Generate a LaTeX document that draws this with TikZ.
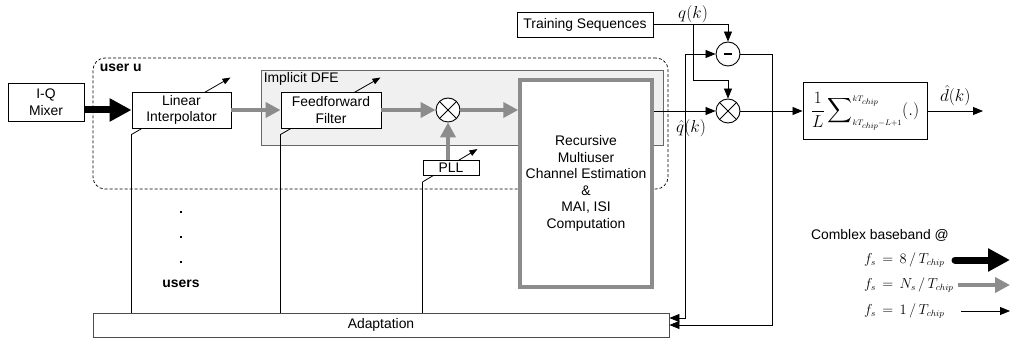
\documentclass[tikz,border=0pt]{standalone}
\usepackage{amsmath}
\usepackage{fontspec}
\setmainfont{Liberation Sans}
\usepackage{tikz}
\usetikzlibrary{arrows.meta,positioning,calc,backgrounds}

\begin{document}
\begin{tikzpicture}[
  x=1pt,y=-1pt,
  font=\fontsize{13.9}{16.6}\selectfont,
  box/.style={draw,line width=0.9pt,fill=white,align=center,inner sep=1pt},
  mult/.style={circle,draw,line width=0.9pt,fill=white,minimum size=24pt,inner sep=0pt,
    path picture={\draw[line width=0.9pt]
      (path picture bounding box.south west) -- (path picture bounding box.north east)
      (path picture bounding box.north west) -- (path picture bounding box.south east);}},
  arr/.style={-{Triangle[length=10pt,width=8pt]},line width=0.8pt},
  tune/.style={-{Triangle[length=8pt,width=6pt]},line width=0.8pt},
  garr/.style={-{Triangle[length=15pt,width=15pt]},line width=4pt,color=black!45},
  barr/.style={-{Triangle[length=22pt,width=22pt]},line width=7pt},
  mlbl/.style={font=\fontsize{17}{19}\selectfont},
  flbl/.style={font=\fontsize{13.3}{15}\selectfont,anchor=west,inner sep=0pt},
  bold/.style={font=\fontsize{13.9}{16.6}\selectfont\bfseries},
]
\useasboundingbox (0,0) rectangle (1012,339);
% ----- frames
\begin{scope}[on background layer]
\node[draw,line width=0.7pt,dash pattern=on 3pt off 2pt,rounded corners=12pt,
      minimum width=575pt,minimum height=131pt,
      label={[bold,anchor=north west,inner sep=0pt,xshift=7pt,yshift=-6pt]north west:user u}] (user) at (380.5,123.5) {};
\node[draw=black!60,fill=black!6,line width=0.9pt,minimum width=402pt,minimum height=75pt,
      label={[anchor=north west,inner sep=0pt,xshift=3pt,yshift=-3pt]north west:Implicit DFE}] (dfe) at (462,107.5) {};
\end{scope}
% ----- blocks
\node[box,minimum width=76pt,minimum height=38pt] (mixer) at (46,102) {I-Q\\Mixer};
\node[box,minimum width=99pt,minimum height=36pt] (interp) at (181.5,110) {Linear\\Interpolator};
\node[box,minimum width=100pt,minimum height=36pt] (ff) at (331,110) {Feedforward\\Filter};
\node[mult] (mul1) at (448,110) {};
\node[box,draw=black!45,line width=3.5pt,minimum width=132pt,minimum height=207pt] (rec) at (586,183.5)
  {Recursive\\Multiuser\\Channel Estimation\\\&\\MAI, ISI\\Computation};
\node[box,minimum width=56pt,minimum height=15pt,inner sep=0pt] (pll) at (451,168) {PLL};
\node[box,minimum width=136pt,minimum height=25pt] (train) at (585,24.5) {Training Sequences};
\node[circle,draw,line width=0.9pt,fill=white,minimum size=24pt,inner sep=0pt] (minus) at (728,54) {\rule{8pt}{2.5pt}};
\node[mult] (mul2) at (728,111) {};
\node[box,minimum width=124pt,minimum height=57pt] (sumbox) at (865,111)
  {\fontsize{16}{18}\selectfont$\displaystyle\frac{1}{L}\sum\nolimits_{\scriptscriptstyle kT_{chip}-L+1}^{\scriptscriptstyle kT_{chip}}(.)$};
\node[box,draw=black!70,minimum width=576pt,minimum height=24pt] (adapt) at (381,325) {Adaptation};
% ----- other users
\foreach \y [count=\i] in {212,237,262}
  \node[fill,inner sep=0pt,minimum size=2.5pt] (dot\i) at (181,\y) {};
\node[bold] (users) at (181,284) {users};
% ----- tuning arrows
\coordinate (interpa) at ($(interp.south west)+(0,6)$);
\coordinate (interpb) at ($(interp.north east)+(-1,-14)$);
\coordinate (ffa) at ($(ff.south west)+(0,6)$);
\coordinate (ffb) at ($(ff.north east)+(-1,-14)$);
\coordinate (plla) at ($(pll.south west)+(0,6)$);
\coordinate (pllb) at ($(pll.north east)+(-2,-11)$);
\begin{scope}[on background layer]
\draw[tune] (interpa) -- (interpb);
\draw[tune] (ffa) -- (ffb);
\draw[tune] (plla) -- (pllb);
\end{scope}
\draw[line width=0.8pt] (interpa) -- (interpa |- adapt.north);
\draw[line width=0.8pt] (ffa) -- (ffa |- adapt.north);
\draw[line width=0.8pt] (plla) -- (plla |- adapt.north);
% ----- signal path
\draw[barr] (mixer.east |- interp) -- (interp);
\draw[garr] (interp) -- (ff);
\draw[garr] (ff) -- (mul1);
\draw[garr] (mul1) -- (mul1 -| rec.west);
\draw[garr] (pll.north -| mul1) -- (mul1);
\coordinate (qb) at (685,111);
\draw[arr] (rec.east |- mul2) -- (mul2);
\draw[arr] (qb) |- (minus);
\draw[arr] (qb) |- ($(adapt.east)+(0,-7)$);
\node[mlbl] (qhat) at ($(qb)+(6,17)$) {$\hat q(k)$};
% ----- reference
\coordinate (qk) at (693,24.5);
\coordinate (qm) at (728,80);
\draw[arr] (train) -| (minus);
\draw[arr] (qk) |- (qm) -- (mul2);
\node[mlbl,above=-2pt of qk] (qlab) {$q(k)$};
% ----- error and output
\coordinate (eb) at (772,54);
\draw[arr] (minus) -- (eb) |- (adapt);
\coordinate (dout) at (983,111);
\draw[arr] (mul2) -- (sumbox);
\draw[arr] (sumbox) -- node[mlbl,above=1pt] (dlab) {$\hat d(k)$} (dout);
% ----- legend
\node (legend) at (880,235) {Comblex baseband @};
\node[flbl] (fa) at (864,260) {$f_s \,=\, 8\,/\,T_{chip}$};
\node[flbl] (fb) at (864,285) {$f_s \,=\, N_s\,/\,T_{chip}$};
\node[flbl] (fc) at (864,311) {$f_s \,=\, 1\,/\,T_{chip}$};
\coordinate (ka) at (955,260);
\coordinate (kb) at (958,285);
\coordinate (kc) at (961,311);
\draw[barr,line cap=round] (ka) -- (ka -| 1010,0);
\draw[garr] (kb) -- (kb -| 1010,0);
\draw[arr] (kc) -- (kc -| 1010,0);
\end{tikzpicture}
\end{document}
